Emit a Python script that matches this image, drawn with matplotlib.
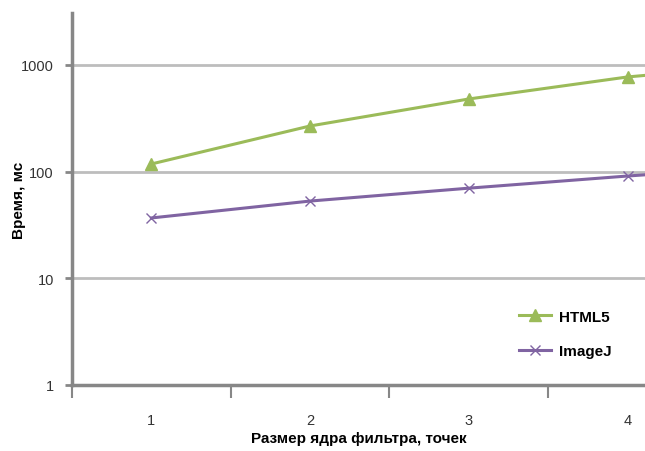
import numpy as np
import matplotlib.pyplot as plt
from matplotlib.ticker import FixedLocator, NullFormatter, FixedFormatter

plt.rcParams['font.family'] = ['Liberation Sans', 'DejaVu Sans']

kernel = [1, 2, 3, 4, 5]                 # размер ядра фильтра
html5 = [118, 268, 480, 772, 1050]       # HTML5, мс
imagej = [36.8, 53, 70, 91, 115]         # ImageJ, мс

green = '#9bbb59'
purple = '#8064a2'
axis_col = '#878787'
grid_col = '#bdbdbd'

fig = plt.figure(figsize=(6.45, 4.52), dpi=100)
ax = fig.add_axes([72/645, 66/452, 573/645, 372/452])

ax.plot(kernel, html5, color=green, lw=2.2, marker='^', ms=8, label='HTML5')
ax.plot(kernel, imagej, color=purple, lw=2.2, marker='x', ms=7, mew=1.0, label='ImageJ')

ax.set_yscale('log')
ax.set_ylim(1, 3070)
ax.set_xlim(0.5, 4.11)

ax.yaxis.set_major_locator(FixedLocator([1, 10, 100, 1000]))
ax.yaxis.set_major_formatter(FixedFormatter(['1', '10', '100', '1000']))
ax.yaxis.set_minor_locator(FixedLocator([]))
ax.grid(axis='y', which='major', color=grid_col, lw=2)

ax.xaxis.set_major_locator(FixedLocator([1, 2, 3, 4]))
ax.xaxis.set_major_formatter(FixedFormatter(['1', '2', '3', '4']))
ax.xaxis.set_minor_locator(FixedLocator([0.5, 1.5, 2.5, 3.5]))
ax.xaxis.set_minor_formatter(NullFormatter())
ax.tick_params(axis='x', which='major', length=0, pad=20, labelsize=10.5, labelcolor='#333333')
ax.tick_params(axis='x', which='minor', length=9, width=1.5, color=axis_col)
ax.tick_params(axis='y', which='major', length=5, width=2, color=axis_col, pad=8,
               labelsize=10.5, labelcolor='#333333')

for side in ['top', 'right']:
    ax.spines[side].set_visible(False)
for side in ['left', 'bottom']:
    ax.spines[side].set_color(axis_col)
    ax.spines[side].set_linewidth(2.5)

ax.set_ylabel('Время, мс', fontsize=11, fontweight='bold')
ax.yaxis.set_label_coords(-0.08, 0.5)
ax.set_xlabel('Размер ядра фильтра, точек', fontsize=11, fontweight='bold', labelpad=3)

leg = ax.legend(loc='lower right', bbox_to_anchor=(0.965, 0.035), frameon=False,
                prop={'weight': 'bold', 'size': 11}, handlelength=2.1, handletextpad=0.5,
                labelspacing=1.35)

fig.savefig('out.png', dpi=100)
